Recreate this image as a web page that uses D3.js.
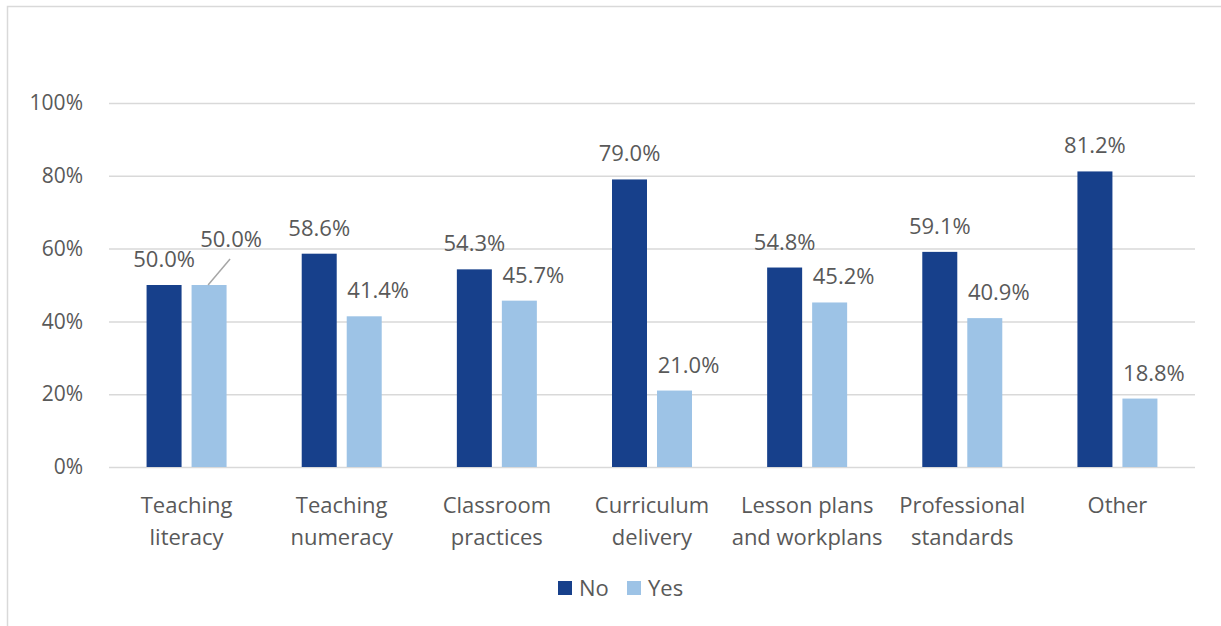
<!DOCTYPE html>
<html>
<head>
<meta charset="utf-8">
<script src="https://cdn.jsdelivr.net/npm/d3@7"></script>
<style>
  html, body { margin: 0; padding: 0; background: #fff; }
  svg { display: block; }
  text { font-family: "Open Sans", "Noto Sans", sans-serif; fill: #595959; }
</style>
</head>
<body>
<svg id="chart" width="1221" height="626"></svg>
<script>
// Survey responses by area of support
const categories = [
  ["Teaching", "literacy"],
  ["Teaching", "numeracy"],
  ["Classroom", "practices"],
  ["Curriculum", "delivery"],
  ["Lesson plans", "and workplans"],
  ["Professional", "standards"],
  ["Other"]
];
const series = ["No", "Yes"];
const noValues  = [50.0, 58.6, 54.3, 79.0, 54.8, 59.1, 81.2];
const yesValues = [50.0, 41.4, 45.7, 21.0, 45.2, 40.9, 18.8];
const yTicks = [0, 20, 40, 60, 80, 100];
const colors = { No: "#17408b", Yes: "#9dc3e6" };

const svg = d3.select("#chart");
const W = 1221, H = 626;
const plot = { left: 109, right: 1195, top: 103, bottom: 467 };

// outer frame (only top and left edges fall inside the view)
svg.append("rect")
  .attr("x", 7.5).attr("y", 6.5)
  .attr("width", W + 20).attr("height", H + 20)
  .attr("fill", "none").attr("stroke", "#d9d9d9").attr("stroke-width", 1.5);

const catKeys = categories.map(c => c.join(" "));
const x0 = d3.scaleBand().domain(catKeys).range([plot.left, plot.right]).padding(0);
const x1 = d3.scaleBand().domain(series).range([0, 80]).paddingInner(10 / 45).paddingOuter(0);
const y = d3.scaleLinear().domain([0, 100]).range([plot.bottom, plot.top]);

// gridlines + y labels
const yAxis = d3.axisLeft(y).tickValues(yTicks).tickSize(-(plot.right - plot.left))
  .tickFormat(d => d + "%").tickPadding(26);
const gy = svg.append("g").attr("transform", `translate(${plot.left},0)`).call(yAxis);
gy.select(".domain").remove();
gy.selectAll(".tick line").attr("stroke", "#d9d9d9").attr("stroke-width", 1.5);
gy.selectAll(".tick text").style("font-size", "21px").attr("fill", "#595959")
  .style("font-family", "'Open Sans', sans-serif");

const rows = categories.map((c, i) => ({
  key: catKeys[i], lines: c,
  vals: [{ s: "No", v: noValues[i] }, { s: "Yes", v: yesValues[i] }]
}));

const groups = svg.append("g").selectAll("g").data(rows).join("g")
  .attr("transform", d => `translate(${x0(d.key) + x0.bandwidth() / 2 - 40},0)`);

groups.selectAll("rect").data(d => d.vals).join("rect")
  .attr("x", d => x1(d.s))
  .attr("y", d => y(d.v))
  .attr("width", x1.bandwidth())
  .attr("height", d => y(0) - y(d.v))
  .attr("fill", d => colors[d.s]);

// value labels; "Yes" labels sit a little right of their bars,
// and the first one is lifted aside with a leader line
groups.each(function (d, i) {
  const g = d3.select(this);
  d.vals.forEach(v => {
    const cx = x1(v.s) + x1.bandwidth() / 2;
    let lx = cx, ly = y(v.v) - 18;
    if (v.s === "Yes") lx = cx + 14;
    if (i === 0 && v.s === "Yes") {
      lx = cx + 22; ly = y(v.v) - 38;
      g.append("line")
        .attr("x1", cx - 1).attr("y1", y(v.v))
        .attr("x2", cx + 21).attr("y2", y(v.v) - 26)
        .attr("stroke", "#a6a6a6").attr("stroke-width", 1.5);
    }
    g.append("text").attr("x", lx).attr("y", ly)
      .attr("text-anchor", "middle").style("font-size", "22px")
      .text(v.v.toFixed(1) + "%");
  });
});

// category labels
const xl = svg.append("g");
rows.forEach(r => {
  const t = xl.append("text")
    .attr("x", x0(r.key) + x0.bandwidth() / 2)
    .attr("y", 513).attr("text-anchor", "middle").style("font-size", "22px");
  r.lines.forEach((ln, j) => {
    t.append("tspan").attr("x", x0(r.key) + x0.bandwidth() / 2)
      .attr("dy", j === 0 ? 0 : 32).text(ln);
  });
});

// legend
const legend = svg.append("g").attr("transform", "translate(558,581)");
const lg = legend.selectAll("g").data(series).join("g")
  .attr("transform", (d, i) => `translate(${i * 69},0)`);
lg.append("rect").attr("width", 14).attr("height", 14).attr("fill", d => colors[d]);
lg.append("text").attr("x", 21).attr("y", 15).style("font-size", "22px").text(d => d);
</script>
</body>
</html>
